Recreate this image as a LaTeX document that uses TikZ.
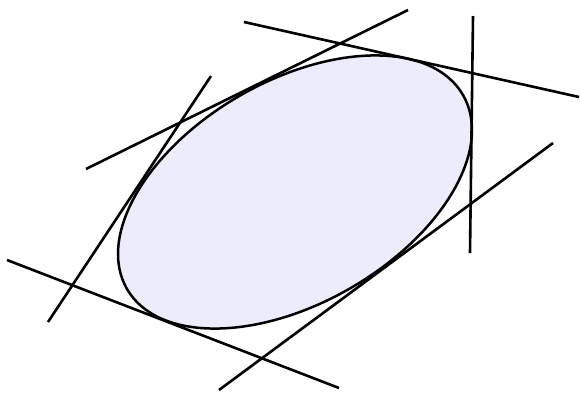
\documentclass[tikz,border=0pt]{standalone}
\definecolor{fillblue}{RGB}{236,236,252}
\begin{document}
\begin{tikzpicture}[x=1pt,y=-1pt,
  tangent/.style={line width=2.6pt},
  curve/.style={line width=2.5pt, fill=fillblue}]
\useasboundingbox (0,0) rectangle (580,392);
\draw[curve, rotate around={30:(295,192)}] (295,192) ellipse [x radius=194pt, y radius=111pt];
\coordinate (a1) at (244,22);  \coordinate (a2) at (579,97);
\coordinate (b1) at (86,169);  \coordinate (b2) at (408,10);
\coordinate (c1) at (211,76);  \coordinate (c2) at (48,322);
\coordinate (d1) at (473,16);  \coordinate (d2) at (470,253);
\coordinate (e1) at (7,260);   \coordinate (e2) at (339,388);
\coordinate (f1) at (219,390); \coordinate (f2) at (553,143);
\draw[tangent] (a1) -- (a2);
\draw[tangent] (b1) -- (b2);
\draw[tangent] (c1) -- (c2);
\draw[tangent] (d1) -- (d2);
\draw[tangent] (e1) -- (e2);
\draw[tangent] (f1) -- (f2);
\end{tikzpicture}
\end{document}
